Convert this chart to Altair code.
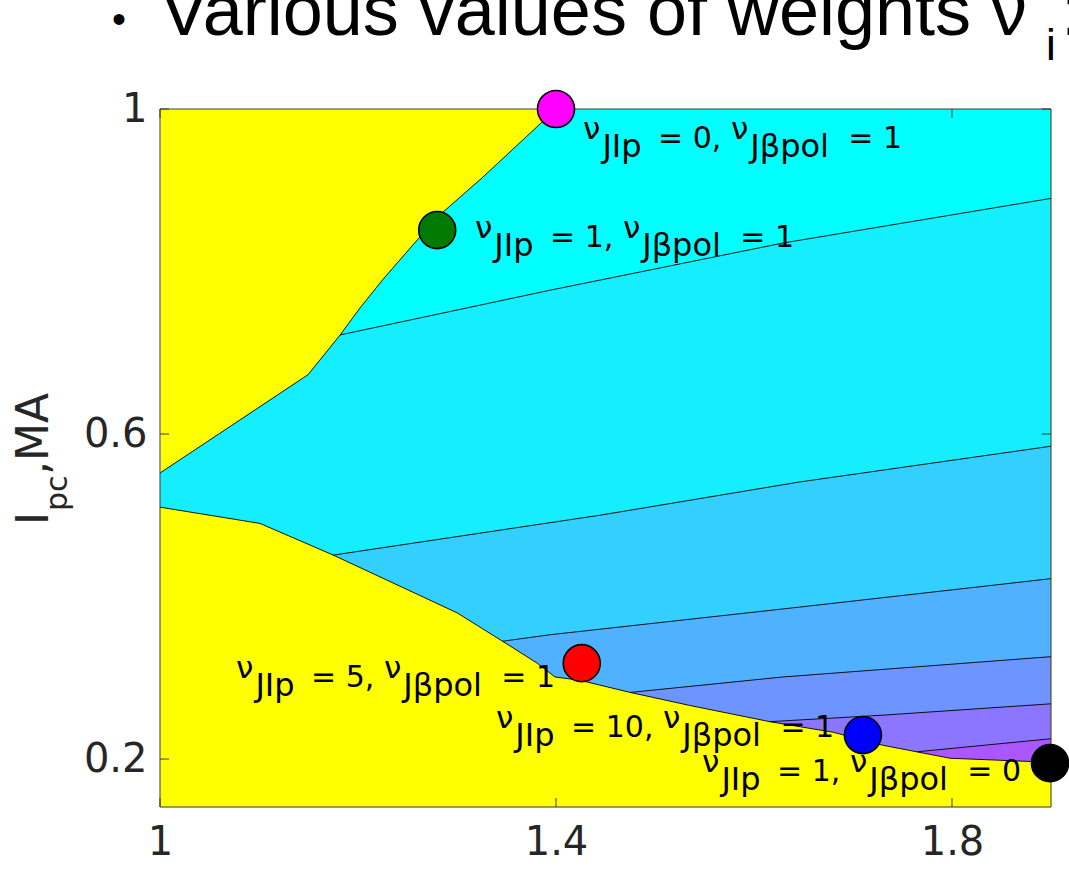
import altair as alt
import pandas as pd

# ---------------- data ----------------
X_DOMAIN = [1.0, 1.9]
Y_DOMAIN = [0.141, 1.0]
PLOT_W, PLOT_H = 891, 698

x_ticks = [1.0, 1.4, 1.8]
y_ticks = [0.2, 0.6, 1.0]

# boundary of the valid (coloured) region
upper_x = [1.000, 1.1495, 1.182, 1.202, 1.225, 1.260, 1.283, 1.326, 1.386, 1.397, 1.900]
upper_y = [0.552, 0.673, 0.722, 0.755, 0.790, 0.839, 0.870, 0.916, 0.984, 1.000, 1.000]
lower_x = [1.000, 1.101, 1.175, 1.300, 1.346, 1.381, 1.399, 1.424, 1.475, 1.535, 1.616, 1.680, 1.730, 1.798, 1.900]
lower_y = [0.510, 0.490, 0.451, 0.380, 0.345, 0.318, 0.301, 0.297, 0.282, 0.266, 0.246, 0.233, 0.217, 0.201, 0.196]

# contour lines (top to bottom)
c1_x = [1.182, 1.394, 1.629, 1.900]; c1_y = [0.722, 0.777, 0.835, 0.890]
c2_x = [1.175, 1.444, 1.646, 1.900]; c2_y = [0.451, 0.500, 0.541, 0.585]
c3_x = [1.346, 1.394, 1.646, 1.900]; c3_y = [0.345, 0.353, 0.387, 0.422]
c4_x = [1.475, 1.629, 1.900];        c4_y = [0.282, 0.301, 0.326]
c5_x = [1.616, 1.730, 1.900];        c5_y = [0.246, 0.254, 0.268]
c6_x = [1.765, 1.900];               c6_y = [0.209, 0.225]

band_colors = ["#00FFFF", "#14EEFF", "#33D0FF", "#50B2FF", "#6E94FF", "#8C76FF", "#AA57FF"]
bg_color = "#FFFF00"

# marked points
pt_x = [1.400, 1.280, 1.426, 1.710, 1.899]
pt_y = [1.000, 0.851, 0.318, 0.2295, 0.195]
pt_color = ["#FF00FF", "#007A00", "#FF0000", "#0000FF", "#000000"]

# labels
nu_jlp = [0, 1, 5, 10, 1]
nu_jbpol = [1, 1, 1, 1, 0]
label_x = [1.4273, 1.3182, 1.0768, 1.3394, 1.5475]
label_y = [0.952, 0.830, 0.289, 0.227, 0.173]

title_main = "Various values of weights ν"
title_sub = "i"
ytitle_pieces = ["I", "pc", ",MA"]

# ---------------- helpers ----------------
xs = alt.Scale(domain=X_DOMAIN, nice=False, zero=False)
ys = alt.Scale(domain=Y_DOMAIN, nice=False, zero=False)
xaxis = alt.Axis(values=x_ticks, format="~g", title=None, grid=False, ticks=False, domain=False,
                 labelFlush=False, labelOverlap=False,
                 labelFont="DejaVu Sans", labelFontSize=40, labelColor="#262626", labelPadding=15)
yaxis = alt.Axis(values=y_ticks, format="~g", title=None, grid=False, ticks=False, domain=False,
                 labelFlush=False, labelOverlap=False,
                 labelFont="DejaVu Sans", labelFontSize=40, labelColor="#262626", labelPadding=13)


def X(f="x"):
    return alt.X(f + ":Q", scale=xs, axis=xaxis)


def Y(f="y"):
    return alt.Y(f + ":Q", scale=ys, axis=yaxis)


def df(xv, yv):
    return pd.DataFrame({"x": xv, "y": yv, "base": [Y_DOMAIN[0]] * len(xv)})


def area(xv, yv, color):
    return alt.Chart(df(xv, yv)).mark_area(color=color, interpolate="linear", opacity=1).encode(
        x=X(), y=Y(), y2="base")


def line(xv, yv, width=0.9):
    return alt.Chart(df(xv, yv)).mark_line(color="#000000", strokeWidth=width, interpolate="linear").encode(
        x=X(), y=Y())


layers = []
# cyan region below the upper boundary
layers.append(area(upper_x, upper_y, band_colors[0]))
# band 2: left part follows the upper boundary, then contour 1
b2_x = [v for v in upper_x if v <= c1_x[0]] + c1_x[1:]
b2_y = [upper_y[i] for i, v in enumerate(upper_x) if v <= c1_x[0]] + c1_y[1:]
layers.append(area(b2_x, b2_y, band_colors[1]))
for (cx, cy), col in zip([(c2_x, c2_y), (c3_x, c3_y), (c4_x, c4_y), (c5_x, c5_y), (c6_x, c6_y)], band_colors[2:]):
    layers.append(area(cx, cy, col))
# yellow below the lower boundary
layers.append(area(lower_x, lower_y, bg_color))

# lines
up_x_line = [v for v in upper_x if v <= 1.397]
up_y_line = upper_y[:len(up_x_line)]
layers.append(line(up_x_line, up_y_line))
layers.append(line(lower_x, lower_y))
for cx, cy in [(c1_x, c1_y), (c2_x, c2_y), (c3_x, c3_y), (c4_x, c4_y), (c5_x, c5_y), (c6_x, c6_y)]:
    layers.append(line(cx, cy))

# frame + inward ticks
one = pd.DataFrame({"a": [0]})
layers.append(alt.Chart(one).mark_rect(fillOpacity=0, stroke="#3a3a3a", strokeWidth=1).encode(
    x=alt.value(0), x2=alt.value(PLOT_W), y=alt.value(0), y2=alt.value(PLOT_H)))
xt = pd.DataFrame({"x": x_ticks})
yt = pd.DataFrame({"y": y_ticks})
layers.append(alt.Chart(xt).mark_rule(color="#3a3a3a", strokeWidth=1).encode(
    x=X(), y=alt.value(PLOT_H), y2=alt.value(PLOT_H - 9)))
layers.append(alt.Chart(xt).mark_rule(color="#3a3a3a", strokeWidth=1).encode(
    x=X(), y=alt.value(0), y2=alt.value(9)))
layers.append(alt.Chart(yt).mark_rule(color="#3a3a3a", strokeWidth=1).encode(
    y=Y(), x=alt.value(0), x2=alt.value(9)))
layers.append(alt.Chart(yt).mark_rule(color="#3a3a3a", strokeWidth=1).encode(
    y=Y(), x=alt.value(PLOT_W), x2=alt.value(PLOT_W - 9)))

# points
pts = pd.DataFrame({"x": pt_x, "y": pt_y, "c": pt_color})
layers.append(alt.Chart(pts).mark_point(filled=True, shape="circle", size=1370, stroke="#000000",
                                        strokeWidth=1.6, opacity=1).encode(
    x=X(), y=Y(), fill=alt.Fill("c:N", scale=None)))

# labels with subscripts
CHAR_EM = {" ": 0.318, "=": 0.838, ",": 0.318, "J": 0.295, "I": 0.295, "p": 0.635,
           "o": 0.612, "l": 0.278, "β": 0.635, "ν": 0.592}
for d in "0123456789":
    CHAR_EM[d] = 0.636


def tw(s, fs):
    return sum(CHAR_EM.get(c, 0.6) for c in s) * fs


MAIN_FS, SUB_FS, NU_FS = 30, 32, 31
for i in range(len(label_x)):
    pieces = [("ν", "nu"), ("JIp", "sub"), (f"= {nu_jlp[i]},", "main"),
              ("ν", "nu"), ("Jβpol", "sub"), (f"= {nu_jbpol[i]}", "main")]
    row = pd.DataFrame({"x": [label_x[i]], "y": [label_y[i]]})
    off = 0.0
    for txt, kind in pieces:
        fs = {"nu": NU_FS, "sub": SUB_FS, "main": MAIN_FS}[kind]
        dy = {"nu": -9, "sub": 9, "main": 0}[kind]
        layers.append(alt.Chart(row).mark_text(align="left", baseline="alphabetic", font="DejaVu Sans",
                                               fontSize=fs, color="#000000", dx=off, dy=dy).encode(
            x=X(), y=Y(), text=alt.value(txt)))
        if kind == "nu":
            off += tw(txt, fs) + 1
        elif kind == "sub":
            off += tw(txt, fs) + 1.5 * len(txt) + 12
        else:
            off += tw(txt, fs) + 0.318 * MAIN_FS

# y-axis title (rotated, with subscript)
ypos = [(-112, 416, 44), (-93, 402, 30), (-112, 366, 44)]
for txt, (px, py, fs) in zip(ytitle_pieces, ypos):
    layers.append(alt.Chart(one).mark_text(align="left", baseline="alphabetic", angle=270,
                                           font="DejaVu Sans", fontSize=fs, color="#262626").encode(
        x=alt.value(px), y=alt.value(py), text=alt.value(txt)))

# slide title, cut off at the top
layers.append(alt.Chart(one).mark_text(align="center", baseline="middle", font="Liberation Sans",
                                       fontSize=40, color="#000000").encode(
    x=alt.value(-41), y=alt.value(-88), text=alt.value("•")))
layers.append(alt.Chart(one).mark_text(align="left", baseline="alphabetic", font="Liberation Sans",
                                       fontSize=72, color="#000000").encode(
    x=alt.value(0), y=alt.value(-74), text=alt.value(title_main)))
layers.append(alt.Chart(one).mark_text(align="left", baseline="alphabetic", font="Liberation Sans",
                                       fontSize=44, color="#000000").encode(
    x=alt.value(886), y=alt.value(-49), text=alt.value(title_sub)))
layers.append(alt.Chart(one).mark_text(align="left", baseline="alphabetic", font="Liberation Sans",
                                       fontSize=72, color="#000000").encode(
    x=alt.value(901), y=alt.value(-74), text=alt.value(":")))

chart = alt.layer(*layers).properties(
    width=PLOT_W, height=PLOT_H,
    autosize=alt.AutoSizeParams(type="none"),
    padding={"left": 160, "top": 109, "right": 18, "bottom": 63},
    background="#FFFFFF",
).configure_view(fill=bg_color, stroke="transparent")

chart.save("out.html", embed_options={"renderer": "svg", "actions": False})
